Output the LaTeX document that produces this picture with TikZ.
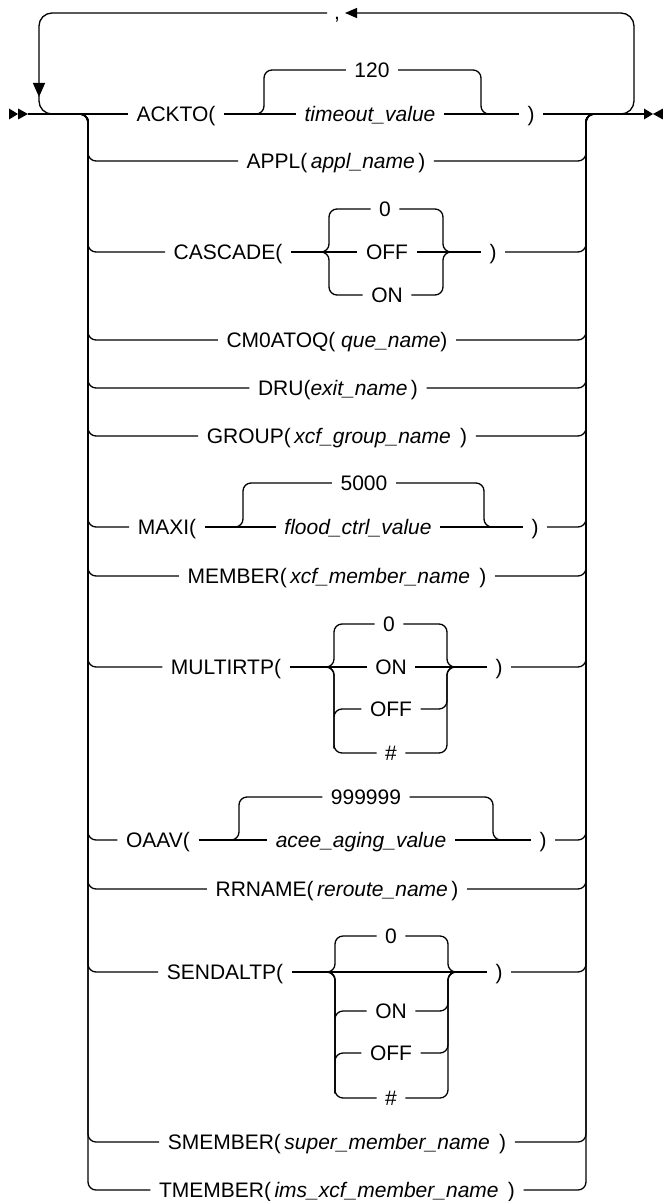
\documentclass[tikz,border=0pt]{standalone}
\usepackage{fontspec}
\setmainfont{Liberation Sans}
\usetikzlibrary{arrows.meta}
\begin{document}
\begin{tikzpicture}[x=1pt,y=-1pt,line width=1.3pt,
  every node/.style={font=\fontsize{21}{25}\selectfont},
  kw/.style={inner xsep=8pt,inner ysep=0pt,text height=15pt,text depth=0pt},
  rail/.style={rounded corners=8pt},
  loopback/.style={rounded corners=13pt}]
\useasboundingbox (0,0) rectangle (663,1201);
% start and end marks
\coordinate (start) at (28,114);
\coordinate (stop) at (644,114);
\fill (9,108.5) -- (18,114) -- (9,119.5) -- cycle;
\fill (18,108.5) -- (28,114) -- (18,119.5) -- cycle;
\fill (644,108.5) -- (653,114) -- (644,119.5) -- cycle;
\fill (663,108.5) -- (653,114) -- (663,119.5) -- cycle;
% repeat loop
\node[inner sep=0pt,anchor=base] (comma) at (337,20) {,};
\draw[loopback,-{Triangle[length=12pt,width=10pt]}] (608,114) -| (634,13) -- (345,13);
\draw[loopback,-{Triangle[length=14pt,width=12pt]}] (327,13) -| (39,97);
\draw[loopback] (39,96) |- (60,114);
% ACKTO
\node[kw] (ackto) at (176,114) {ACKTO(};
\node[kw] (tmo) at (370,114) {\textit{timeout\_value}};
\node[kw] (d120) at (372,70) {120};
\node[kw] (rp1) at (531,114) {)};
\draw (start) -- (ackto.west);
\draw (ackto) -- (tmo) -- (rp1) -- (stop);
\draw[rail] (255,114) -| (264,70) -- (d120.west);
\draw[rail] (d120.east) -| (481,114) -- (490,114);
% APPL
\node[kw] (appl) at (336,161) {APPL(\,\textit{appl\_name}\,)};
% CASCADE
\node[kw] (cascade) at (228,252) {CASCADE(};
\node[kw] (c0) at (385,209) {0};
\node[kw] (coff) at (387,252) {OFF};
\node[kw] (con) at (387,295) {ON};
\node[kw] (rp3) at (493,252) {)};
\coordinate (cjl) at (320,252);
\coordinate (cjr) at (452,252);
\draw (cascade) -- (coff) -- (rp3);
\draw[rail] (cjl) -| (329,209) -- (c0.west);
\draw[rail] (cjl) -| (329,295) -- (con.west);
\draw[rail] (c0.east) -| (443,252) -- (cjr);
\draw[rail] (con.east) -| (443,252) -- (cjr);
% CM0ATOQ, DRU, GROUP
\node[kw] (cmq) at (337,340) {CM0ATOQ( \textit{que\_name})};
\node[kw] (dru) at (338,388) {DRU(\textit{exit\_name}\,)};
\node[kw] (group) at (337,436) {GROUP(\,\textit{xcf\_group\_name}\ \,)};
% MAXI
\node[kw] (maxi) at (167,527) {MAXI(};
\node[kw] (fcv) at (358,527) {\textit{flood\_ctrl\_value}};
\node[kw] (d5000) at (364,483) {5000};
\node[kw] (rp7) at (535,527) {)};
\draw (maxi) -- (fcv) -- (rp7);
\draw[rail] (234,527) -| (243,483) -- (d5000.west);
\draw[rail] (d5000.east) -| (484,527) -- (493,527);
% MEMBER
\node[kw] (member) at (337,576) {MEMBER(\,\textit{xcf\_member\_name}\ \,)};
% MULTIRTP
\node[kw] (multi) at (226,667) {MULTIRTP(};
\node[kw] (m0) at (389,624) {0};
\node[kw] (mon) at (391,667) {ON};
\node[kw] (moff) at (391,709) {OFF};
\node[kw] (mhash) at (391,753) {\#};
\node[kw] (rp9) at (499,667) {)};
\coordinate (mjl) at (325,667);
\coordinate (mjr) at (456,667);
\draw (multi) -- (mon) -- (rp9);
\draw[rail] (mjl) -| (334,624) -- (m0.west);
\foreach \o in {moff,mhash} {
  \draw[rail] (mjl) -| (334,753) |- (\o.west);
  \draw[rail] (\o.east) -| (447,667) -- (mjr);
}
\draw[rail] (m0.east) -| (447,667) -- (mjr);
% OAAV
\node[kw] (oaav) at (158,840) {OAAV(};
\node[kw] (aav) at (361,840) {\textit{acee\_aging\_value}};
\node[kw] (d999999) at (366,797) {999999};
\node[kw] (rp10) at (543,840) {)};
\draw (oaav) -- (aav) -- (rp10);
\draw[rail] (230,840) -| (239,797) -- (d999999.west);
\draw[rail] (d999999.east) -| (493,840) -- (502,840);
% RRNAME
\node[kw] (rrname) at (337,889) {RRNAME(\,\textit{reroute\_name}\,)};
% SENDALTP
\node[kw] (sendalt) at (225,972) {SENDALTP(};
\node[kw] (s0) at (391,936) {0};
\node[kw] (son) at (391,1011) {ON};
\node[kw] (soff) at (391,1053) {OFF};
\node[kw] (shash) at (391,1098) {\#};
\node[kw] (rp12) at (499,972) {)};
\coordinate (sjl) at (325,972);
\coordinate (sjr) at (458,972);
\draw (sendalt) -- (rp12);
\draw[rail] (sjl) -| (335,936) -- (s0.west);
\foreach \o in {son,soff,shash} {
  \draw[rail] (sjl) -| (335,1098) |- (\o.west);
  \draw[rail] (\o.east) -| (448,972) -- (sjr);
}
\draw[rail] (s0.east) -| (448,972) -- (sjr);
% SMEMBER, TMEMBER
\node[kw] (smember) at (337,1142) {SMEMBER(\,\textit{super\_member\_name}\ \,)};
\node[kw] (tmember) at (337,1190) {TMEMBER(\,\textit{ims\_xcf\_member\_name}\ \,)};
% rails
\foreach \r in {appl,cascade,cmq,dru,group,maxi,member,multi,oaav,rrname,sendalt,smember,tmember}
  \draw[rail] (70,114) -- (88,114) |- (\r.west);
\foreach \r in {appl,rp3,cmq,dru,group,rp7,member,rp9,rp10,rrname,rp12,smember,tmember}
  \draw[rail] (\r.east) -| (586,114) -- (600,114);
\end{tikzpicture}
\end{document}
